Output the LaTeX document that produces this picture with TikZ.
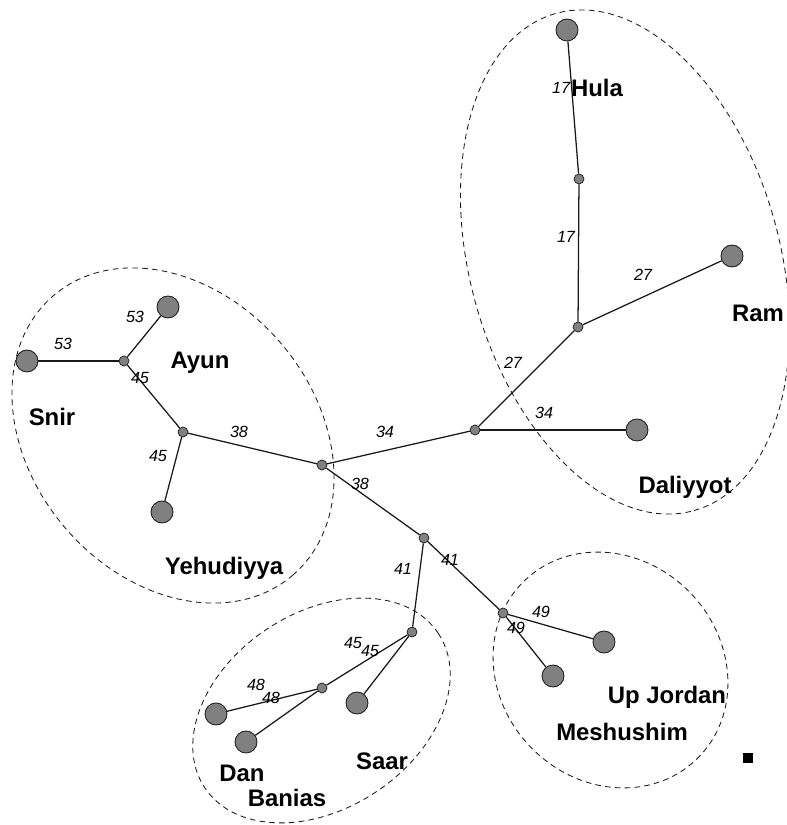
\documentclass[tikz,border=0pt]{standalone}
\usepackage{fontspec}
\setmainfont{Liberation Sans}
\usepackage{tikz}
\usetikzlibrary{positioning}
\definecolor{NodeGray} {HTML}{808080}
\definecolor{InkBlack} {HTML}{1A1A1A}
\tikzset{
  leaf/.style={circle,draw=InkBlack,fill=NodeGray,line width=0.6pt,
               minimum size=0.55cm,inner sep=0pt},
  junc/.style={circle,draw=InkBlack,fill=NodeGray,line width=0.5pt,
               minimum size=0.25cm,inner sep=0pt},
  edge/.style={line width=0.9pt,color=InkBlack},
  grp/.style={line width=0.6pt,dash pattern=on 4pt off 3pt,color=InkBlack},
  site/.style={font=\fontsize{17}{20}\selectfont\bfseries,inner sep=0pt},
  dist/.style={font=\fontsize{11.5}{13}\selectfont\itshape,inner sep=0pt},
}

\begin{document}
\begin{tikzpicture}[x=0.025cm,y=0.025cm]
  \useasboundingbox (0,0) rectangle (787,825);

  % population groups
  \draw[grp,rotate around={-49.5:(173,389.5)}] (173,389.5) ellipse [x radius=184,y radius=142];
  \draw[grp,rotate around={-74.5:(625,563)}]   (625,563)   ellipse [x radius=258,y radius=155];
  \draw[grp,rotate around={33.4:(321.5,114.5)}] (321.5,114.5) ellipse [x radius=140,y radius=98];
  \draw[grp,rotate around={-46:(610.5,155)}]   (610.5,155) ellipse [x radius=124,y radius=111];

  % inner branch points
  \node[junc] (jHula) at (579,646) {};
  \node[junc] (jRam)  at (578,498) {};
  \node[junc] (jDal)  at (475,395) {};
  \node[junc] (jMid)  at (322,360) {};
  \node[junc] (jYeh)  at (183,393) {};
  \node[junc] (jSnir) at (124,464) {};
  \node[junc] (jLow)  at (424,287) {};
  \node[junc] (jSaar) at (412,193) {};
  \node[junc] (jDan)  at (322,137) {};
  \node[junc] (jUp)   at (503,212) {};

  % sampled sites
  \node[leaf] (Hula)   at (567,795) {};
  \node[leaf] (Ram)    at (732,569) {};
  \node[leaf] (Dal)    at (637,395) {};
  \node[leaf] (Snir)   at (27,464)  {};
  \node[leaf] (Ayun)   at (168,518) {};
  \node[leaf] (Yeh)    at (162,313) {};
  \node[leaf] (Dan)    at (216,111) {};
  \node[leaf] (Banias) at (246,83)  {};
  \node[leaf] (Saar)   at (357,122) {};
  \node[leaf] (UpJ)    at (604,183) {};
  \node[leaf] (Mesh)   at (553,149) {};

  \draw[edge] (Hula) -- (jHula);
  \draw[edge] (jHula) -- (jRam);
  \draw[edge] (jRam) -- (Ram);
  \draw[edge] (jRam) -- (jDal);
  \draw[edge] (jDal) -- (Dal);
  \draw[edge] (jDal) -- (jMid);
  \draw[edge] (jMid) -- (jYeh);
  \draw[edge] (jYeh) -- (jSnir);
  \draw[edge] (jSnir) -- (Snir);
  \draw[edge] (jSnir) -- (Ayun);
  \draw[edge] (jYeh) -- (Yeh);
  \draw[edge] (jMid) -- (jLow);
  \draw[edge] (jLow) -- (jSaar);
  \draw[edge] (jLow) -- (jUp);
  \draw[edge] (jSaar) -- (jDan);
  \draw[edge] (jSaar) -- (Saar);
  \draw[edge] (jDan) -- (Dan);
  \draw[edge] (jDan) -- (Banias);
  \draw[edge] (jUp) -- (UpJ);
  \draw[edge] (jUp) -- (Mesh);

  % distances
  \node[dist] (dA) at (561,737) {17};
  \node[dist] (dB) at (566,588) {17};
  \node[dist] (dC) at (643,550) {27};
  \node[dist] (dD) at (513,462) {27};
  \node[dist] (dE) at (544,412) {34};
  \node[dist] (dF) at (385,393) {34};
  \node[dist] (dG) at (239,393) {38};
  \node[dist] (dH) at (360,341) {38};
  \node[dist] (dI) at (140,447) {45};
  \node[dist] (dJ) at (158,369) {45};
  \node[dist] (dK) at (135,508) {53};
  \node[dist] (dL) at (63,481)  {53};
  \node[dist] (dM) at (403,256) {41};
  \node[dist] (dN) at (450,265) {41};
  \node[dist] (dO) at (353,182) {45};
  \node[dist] (dP) at (370,174) {45};
  \node[dist] (dQ) at (256,140) {48};
  \node[dist] (dR) at (271,127) {48};
  \node[dist] (dS) at (541,213) {49};
  \node[dist] (dT) at (516,197) {49};

  % site names
  \node[site] (tHula)   at (597,737) {Hula};
  \node[site] (tRam)    at (758,512) {Ram};
  \node[site] (tDal)    at (685,338) {Daliyyot};
  \node[site] (tAyun)   at (200,462) {Ayun};
  \node[site] (tSnir)   at (52,408)  {Snir};
  \node[site] (tYeh)    at (224,257) {Yehudiyya};
  \node[site] (tDan)    at (242,52)  {Dan};
  \node[site] (tBanias) at (287,27)  {Banias};
  \node[site] (tSaar)   at (382,64)  {Saar};
  \node[site] (tUpJ)    at (667,128) {Up Jordan};
  \node[site] (tMesh)   at (622,93)  {Meshushim};

  \node[fill=black,minimum size=0.23cm,inner sep=0pt] (mark) at (748,67) {};
\end{tikzpicture}
\end{document}
